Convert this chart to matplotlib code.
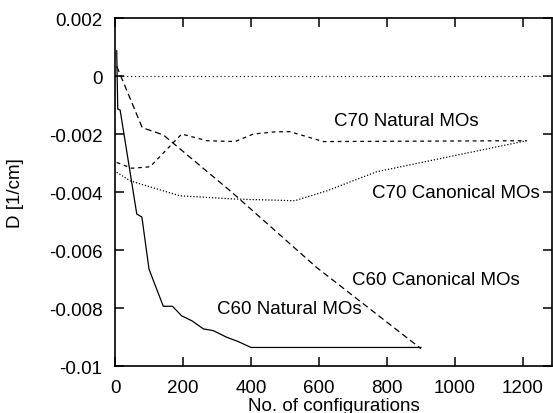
import numpy as np
import matplotlib
matplotlib.use("Agg")
import matplotlib.pyplot as plt

plt.rcParams['font.family'] = ['Liberation Sans', 'DejaVu Sans']

# C60 natural MOs (solid)
c60_nat_x = [5, 8, 15, 64, 79, 100, 142, 169, 196, 226, 260, 289, 329, 363, 400, 900]
c60_nat_y = [0.00087, -0.00114, -0.00117, -0.00476, -0.00486, -0.00666, -0.00794, -0.00794,
             -0.00827, -0.00844, -0.00872, -0.00878, -0.00901, -0.00916, -0.00936, -0.00936]

# C60 canonical MOs (long dash)
c60_can_x = [5, 80, 142, 343, 593, 900]
c60_can_y = [0.00034, -0.00178, -0.00203, -0.0040, -0.0066, -0.0094]

# C70 natural MOs (short dash)
c70_nat_x = [5, 49, 103, 196, 270, 353, 407, 475, 515, 613, 1211]
c70_nat_y = [-0.00298, -0.00318, -0.00313, -0.0020, -0.00223, -0.00226, -0.0020,
             -0.00192, -0.00192, -0.00226, -0.00223]

# C70 canonical MOs (dotted)
c70_can_x = [5, 44, 74, 191, 348, 529, 623, 770, 1211]
c70_can_y = [-0.00332, -0.00361, -0.00372, -0.00413, -0.00424, -0.0043, -0.00396,
             -0.0033, -0.00223]

labels = ["C70 Natural MOs", "C70 Canonical MOs", "C60 Canonical MOs", "C60 Natural MOs"]
label_x = [858, 1003, 943, 513]
label_y = [-0.00154, -0.0040, -0.0070, -0.00803]

xticks = [0, 200, 400, 600, 800, 1000, 1200]
yticks = [0.002, 0, -0.002, -0.004, -0.006, -0.008, -0.01]
ytick_labels = ["0.002", "0", "-0.002", "-0.004", "-0.006", "-0.008", "-0.01"]

fig = plt.figure(figsize=(5.53, 4.14), dpi=100)
ax = fig.add_axes([0.208, 0.1135, 0.791, 0.8405])

ax.axhline(0, color='black', lw=0.8, ls=(0, (1, 2.5)))
ax.plot(c60_nat_x, c60_nat_y, color='black', lw=0.9)
ax.plot(c60_can_x, c60_can_y, color='black', lw=0.9, ls=(0, (5, 3)))
ax.plot(c70_nat_x, c70_nat_y, color='black', lw=0.9, ls=(0, (3, 3)))
ax.plot(c70_can_x, c70_can_y, color='black', lw=0.9, ls=(0, (1, 1.5)))

for t, x, y in zip(labels, label_x, label_y):
    ax.text(x, y, t, fontsize=13.5, ha='center', va='center')

ax.set_xlim(0, 1287)
ax.set_ylim(-0.01, 0.002)
ax.set_xticks(xticks)
ax.set_yticks(yticks)
ax.set_yticklabels(ytick_labels)
ax.tick_params(direction='in', length=6.5, width=1.1, labelsize=13.5,
               top=True, right=True)
ax.tick_params(axis='y', pad=9)
ax.tick_params(axis='x', pad=9)
for s in ax.spines.values():
    s.set_linewidth(1.2)

ax.set_xlabel("No. of configurations", fontsize=13.5, labelpad=1)
ax.set_ylabel("D [1/cm]", fontsize=13.5, labelpad=18)

fig.savefig("out.png", dpi=100)
